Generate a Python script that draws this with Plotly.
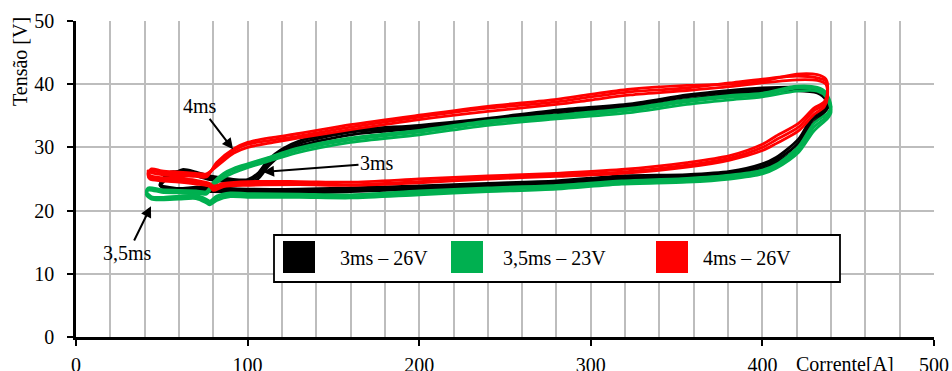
import plotly.graph_objects as go

# Corrente [A] / Tensão [V] loops, three cycles per pulse setting
SERIES_NAMES = ["3ms – 26V", "3,5ms – 23V", "4ms – 26V"]
SERIES_COLORS = ["#000000", "#00b050", "#ff0000"]

# 3ms – 26V
B_X = [50, 55, 62, 70, 78, 90, 100, 106, 112, 120, 130, 160, 200, 240, 280, 323, 356, 380, 400, 420,
       432, 437, 438, 434, 429, 421, 408, 400, 381, 356, 318, 280, 240, 200, 160, 130, 100, 80, 70, 60,
       52, 49, 50]
B_Y1 = [24.5, 25.8, 26.3, 25.8, 25.2, 24.8, 24.6, 25.5, 27.5, 29.3, 30.6, 32.4, 33.2, 34.3, 35.6, 36.6,
        38.0, 38.7, 39.1, 39.2, 38.8, 38.0, 36.8, 35.4, 34.3, 30.7, 28.0, 27.0, 25.9, 25.4, 25.2, 24.4,
        24.0, 23.6, 23.3, 23.1, 23.1, 23.3, 23.4, 23.2, 23.6, 24.2, 24.5]
B_Y2 = [24.8, 26.1, 26.0, 25.5, 24.9, 24.5, 24.3, 25.0, 27.0, 28.9, 30.2, 32.0, 33.0, 33.9, 35.2, 36.3,
        37.6, 38.4, 38.8, 39.0, 38.6, 37.5, 36.2, 35.0, 33.6, 30.0, 27.6, 26.6, 25.6, 25.1, 24.9, 24.2,
        23.8, 23.4, 23.0, 22.8, 22.9, 23.0, 23.1, 23.0, 23.4, 24.0, 24.8]
B_Y3 = [24.3, 25.5, 26.5, 26.1, 25.5, 25.0, 24.9, 25.9, 28.0, 29.7, 31.0, 32.7, 33.5, 34.6, 35.9, 36.9,
        38.3, 39.0, 39.4, 39.5, 39.1, 38.4, 37.2, 35.8, 34.8, 31.3, 28.4, 27.4, 26.2, 25.7, 25.5, 24.7,
        24.3, 23.9, 23.6, 23.4, 23.4, 23.6, 23.7, 23.5, 23.8, 24.0, 24.3]

# 3,5ms – 23V
G_X = [42, 50, 60, 70, 76, 80, 86, 92, 100, 111, 128, 160, 200, 240, 280, 323, 356, 380, 400, 420,
       432, 437, 440, 438, 430, 421, 408, 400, 381, 356, 318, 280, 240, 200, 160, 130, 100, 90, 82, 78,
       76, 70, 60, 50, 44, 41, 42]
G_Y1 = [23.4, 23.1, 23.0, 22.9, 22.8, 24.2, 25.6, 26.4, 27.1, 28.0, 29.5, 31.2, 32.4, 33.9, 34.8, 35.9,
        37.2, 37.9, 38.3, 39.4, 39.2, 38.4, 36.0, 35.0, 33.2, 29.6, 27.0, 26.1, 25.3, 24.8, 24.4, 23.7,
        23.3, 22.8, 22.2, 22.4, 22.4, 22.5, 22.0, 21.2, 21.5, 22.2, 22.0, 21.9, 22.0, 22.8, 23.4]
G_Y2 = [23.2, 22.9, 22.8, 22.7, 22.6, 23.9, 25.2, 26.0, 26.8, 27.7, 29.1, 30.8, 32.0, 33.5, 34.5, 35.5,
        36.8, 37.5, 38.0, 38.9, 38.9, 38.0, 35.6, 34.6, 32.6, 29.2, 26.7, 25.8, 25.0, 24.5, 24.2, 23.4,
        23.0, 22.5, 22.0, 22.1, 22.1, 22.2, 21.6, 20.9, 21.2, 21.9, 21.8, 21.7, 21.8, 22.5, 23.2]
G_Y3 = [23.6, 23.3, 23.2, 23.1, 23.0, 24.5, 25.9, 26.7, 27.4, 28.3, 29.8, 31.5, 32.7, 34.2, 35.1, 36.2,
        37.5, 38.2, 38.6, 39.7, 39.5, 38.7, 36.4, 35.4, 33.8, 30.1, 27.3, 26.4, 25.6, 25.1, 24.7, 24.0,
        23.6, 23.1, 22.5, 22.6, 22.7, 22.8, 22.3, 21.5, 21.8, 22.4, 22.3, 22.1, 22.2, 23.0, 23.6]

# 4ms – 26V
R_X = [44, 50, 60, 70, 76, 82, 92, 100, 115, 130, 160, 200, 240, 280, 300, 323, 356, 381, 400, 420,
       432, 437, 438, 436, 430, 421, 408, 400, 381, 356, 318, 280, 240, 200, 160, 130, 101, 86, 80, 78,
       70, 60, 50, 43, 42, 44]
R_Y1 = [26.3, 26.0, 25.8, 25.6, 25.6, 27.3, 29.5, 30.5, 31.2, 31.8, 33.2, 34.8, 36.2, 37.2, 38.0, 38.8,
        39.4, 40.2, 40.8, 41.3, 41.0, 40.5, 38.5, 36.8, 35.8, 33.2, 31.2, 30.0, 28.3, 27.2, 26.1, 25.6,
        25.2, 24.6, 24.1, 24.3, 24.3, 24.0, 23.5, 24.0, 24.5, 24.8, 24.9, 25.3, 26.0, 26.3]
R_Y2 = [26.6, 26.3, 26.1, 25.9, 25.8, 27.0, 29.1, 30.0, 30.8, 31.5, 32.8, 34.4, 35.7, 36.8, 37.5, 38.3,
        39.0, 39.6, 40.2, 40.7, 40.6, 40.0, 38.0, 36.4, 35.2, 32.6, 30.6, 29.5, 28.0, 26.9, 25.9, 25.4,
        25.0, 24.4, 24.0, 24.1, 24.0, 23.8, 23.2, 23.8, 24.2, 24.5, 24.7, 25.0, 25.8, 26.6]
R_Y3 = [26.0, 25.7, 25.5, 25.4, 25.3, 27.6, 29.8, 30.8, 31.6, 32.2, 33.6, 35.1, 36.5, 37.6, 38.4, 39.2,
        39.8, 40.0, 40.5, 41.6, 41.5, 40.8, 39.0, 37.2, 36.2, 33.8, 31.8, 30.5, 28.7, 27.6, 26.5, 25.9,
        25.5, 25.0, 24.5, 24.6, 24.6, 24.3, 23.9, 24.3, 24.8, 25.1, 25.2, 25.6, 26.3, 26.0]

CYCLES = [
    [(B_X, B_Y1), (B_X, B_Y2), (B_X, B_Y3)],
    [(G_X, G_Y1), (G_X, G_Y2), (G_X, G_Y3)],
    [(R_X, R_Y1), (R_X, R_Y2), (R_X, R_Y3)],
]

# callouts: label, arrow head (x, y), label centre (x, y)
CALLOUTS = [
    ("4ms", (91.5, 29.7), (72.3, 36.5)),
    ("3ms", (109.0, 26.1), (175.4, 27.5)),
    ("3,5ms", (43.7, 20.7), (30.3, 13.3)),
]

X_TICKS = [0, 100, 200, 300, 400, 500]
Y_TICKS = [0, 10, 20, 30, 40, 50]

FONT = "Liberation Serif"
W, H = 952, 371
ML, MR, MT, MB = 76, 18, 21, 34
PW, PH = W - ML - MR, H - MT - MB


def px(xp):
    return (xp - ML) / PW


def py(yp):
    return (H - MB - yp) / PH


fig = go.Figure()
for name, color, cycles in zip(SERIES_NAMES, SERIES_COLORS, CYCLES):
    for xs, ys in cycles:
        fig.add_trace(go.Scatter(
            x=xs, y=ys, mode="lines", name=name, legendgroup=name, showlegend=False,
            line=dict(color=color, width=2.8, shape="spline", smoothing=0.8),
        ))

shapes = []
annotations = []

# legend box with colour squares
shapes.append(dict(type="rect", xref="paper", yref="paper",
                   x0=px(274), x1=px(840), y0=py(282), y1=py(235),
                   fillcolor="white", line=dict(color="black", width=1.8), layer="above"))
for (sx, tx), name, color in zip([(283, 338), (451, 501), (656, 701)], SERIES_NAMES, SERIES_COLORS):
    shapes.append(dict(type="rect", xref="paper", yref="paper",
                       x0=px(sx), x1=px(sx + 32), y0=py(273), y1=py(241),
                       fillcolor=color, line=dict(color=color, width=0), layer="above"))
    annotations.append(dict(xref="paper", yref="paper", x=px(tx), y=py(258),
                            text=name, showarrow=False, xanchor="left", yanchor="middle",
                            font=dict(family=FONT, size=20, color="black")))

for label, (hx, hy), (tx, ty) in CALLOUTS:
    annotations.append(dict(x=hx, y=hy, ax=tx, ay=ty, xref="x", yref="y", axref="x", ayref="y",
                            text=label, showarrow=True, arrowhead=2, arrowsize=1.1, arrowwidth=2,
                            arrowcolor="black", standoff=0,
                            font=dict(family=FONT, size=20, color="black")))

# axis titles
annotations.append(dict(xref="paper", yref="paper", x=px(20), y=py(62), text="Tensão [V]",
                        textangle=-90, showarrow=False, xanchor="center", yanchor="middle",
                        font=dict(family=FONT, size=20, color="black")))
annotations.append(dict(xref="x", yref="paper", x=448, y=0, yshift=-14, text="Corrente[A]",
                        showarrow=False, xanchor="center", yanchor="top",
                        font=dict(family=FONT, size=20, color="black")))

grid_color = "#bdbdbd"
fig.update_layout(
    template="none",
    width=W, height=H,
    margin=dict(l=ML, r=MR, t=MT, b=MB, autoexpand=False),
    paper_bgcolor="white", plot_bgcolor="white",
    showlegend=False,
    font=dict(family=FONT, size=20, color="black"),
    shapes=shapes,
    annotations=annotations,
    xaxis=dict(range=[0, 500], tickvals=X_TICKS, showgrid=True, gridcolor=grid_color, gridwidth=2,
               minor=dict(dtick=20, tick0=0, showgrid=True, gridcolor=grid_color, gridwidth=2, ticks=""),
               ticks="outside", ticklen=6, tickwidth=2, tickcolor="black", automargin=False,
               showline=True, linecolor="black", linewidth=2.5, zeroline=False,
               ticklabelstandoff=2, tickfont=dict(family=FONT, size=20, color="black")),
    yaxis=dict(range=[0, 50], tickvals=Y_TICKS, showgrid=True, gridcolor=grid_color, gridwidth=2,
               ticks="outside", ticklen=6, tickwidth=2, tickcolor="black", automargin=False,
               showline=True, linecolor="black", linewidth=2.5, zeroline=False,
               ticklabelstandoff=9, tickfont=dict(family=FONT, size=20, color="black")),
)

fig.write_html("out.html")
